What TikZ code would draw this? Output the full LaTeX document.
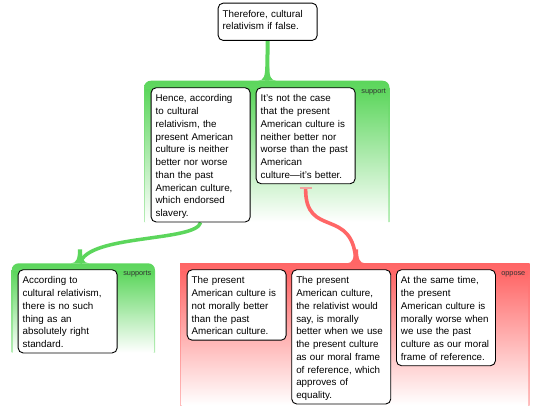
\documentclass[tikz,border=0pt]{standalone}
\usepackage{fontspec}
\setmainfont{Liberation Sans}
\usepackage{tikz}
\usetikzlibrary{shapes,arrows}
\definecolor{supgreen}{RGB}{92,214,92}
\definecolor{oppred}{RGB}{255,102,102}
\definecolor{tickred}{RGB}{240,165,160}
\pgfdeclarelayer{background}
\pgfsetlayers{background,main}
\tikzstyle{claim} = [draw=black, line width=0.9pt, rounded corners=5pt, fill=white, anchor=north west, minimum width=99pt, text width=90pt, inner xsep=4.5pt, inner ysep=3pt, align=left, font=\fontsize{9.8}{12.76}\selectfont, execute at begin node={\rule{0pt}{11pt}}, execute at end node={\rule[-2.4pt]{0pt}{2.4pt}}]
\tikzstyle{grouplabel} = [anchor=east, inner sep=0pt, font=\fontsize{7.3}{8}\selectfont, text=black!80]
\tikzstyle{greenlink} = [draw=supgreen, line width=4pt]
\tikzstyle{redlink} = [draw=oppred, line width=3.6pt]
% widening foot of a link where it meets a group
\newcommand{\flare}[2]{%
  \fill[#2] ([xshift=-9pt]#1) .. controls ([xshift=-3.5pt]#1) and ([xshift=-2pt,yshift=5pt]#1) .. ([xshift=-2pt,yshift=14pt]#1)
    -- ([xshift=2pt,yshift=14pt]#1) .. controls ([xshift=2pt,yshift=5pt]#1) and ([xshift=3.5pt]#1) .. ([xshift=9pt]#1) -- cycle;}
\begin{document}
\begin{tikzpicture}[x=1pt,y=-1pt]
        \useasboundingbox (0,0) rectangle (540,405);

        \coordinate (SupTop) at (267.2,80.7);
        \coordinate (SupsTop) at (80,263.3);
        \coordinate (OppTop) at (356,263.3);

        % claims
        \node (Concl) [claim] at (217.7,2.7) {Therefore, cultural\\relativism if false.\rule[-7.5pt]{0pt}{7.5pt}};
        \node (Hence) [claim] at (150.7,87.3) {Hence, according\\to cultural\\relativism, the\\present American\\culture is neither\\better nor worse\\than the past\\American culture,\\which endorsed\\slavery.};
        \node (NotCase) [claim] at (255.7,87.3) {It's not the case\\that the present\\American culture is\\neither better nor\\worse than the past\\American\\culture---it's better.};
        \node (NoStandard) [claim] at (17.7,269.3) {According to\\cultural relativism,\\there is no such\\thing as an\\absolutely right\\standard.};
        \node (NotBetter) [claim] at (186.7,269.3) {The present\\American culture is\\not morally better\\than the past\\American culture.};
        \node (MorallyBetter) [claim] at (291.3,269.3) {The present\\American culture,\\the relativist would\\say, is morally\\better when we use\\the present culture\\as our moral frame\\of reference, which\\approves of\\equality.};
        \node (MorallyWorse) [claim] at (396,269.3) {At the same time,\\the present\\American culture is\\morally worse when\\we use the past\\culture as our moral\\frame of reference.};

        \coordinate (OppFoot) at ([yshift=-4pt]NotCase.south);

        \begin{pgfonlayer}{background}
        \fill [white] (0,0) rectangle (540,405);
        % groups
        \shade [top color=supgreen, bottom color=supgreen!45] (144,222) -- (144,87.7) .. controls (144,83.7) and (147,80.7) .. (151,80.7) -- (382.5,80.7) .. controls (386.5,80.7) and (389.5,83.7) .. (389.5,87.7) -- (389.5,222) -- cycle;
        \shade [top color=supgreen, bottom color=white] (145.5,89) rectangle (388,222);
        \shade [top color=supgreen, bottom color=supgreen!45] (11.7,352.5) -- (11.7,270.3) .. controls (11.7,266.3) and (14.7,263.3) .. (18.7,263.3) -- (148,263.3) .. controls (152,263.3) and (155,266.3) .. (155,270.3) -- (155,352.5) -- cycle;
        \shade [top color=supgreen, bottom color=white] (13.2,271.5) rectangle (153.5,352.5);
        \shade [top color=oppred, bottom color=oppred!45] (180,263.3) rectangle (529.5,405);
        \shade [top color=oppred, bottom color=white] (181.5,271.5) rectangle (528,405);

        % links
        \path [greenlink] (Concl.south) -- (SupTop);
        \flare{SupTop}{supgreen}
        \path [greenlink, line width=3.5pt] (Hence.south) .. controls (196,242) and (88,234) .. (SupsTop);
        \flare{SupsTop}{supgreen}
        \path [redlink] (OppFoot) .. controls (304.8,240) and (354,205) .. (OppTop);
        \flare{OppTop}{oppred}
        \draw [tickred, line width=2pt] ([xshift=-6pt,yshift=-3.5pt]NotCase.south) -- ([xshift=6pt,yshift=-3.5pt]NotCase.south);
        \end{pgfonlayer}

        \node (SupLabel) [grouplabel] at (386,92.3) {support};
        \node (SupsLabel) [grouplabel] at (151.5,274.3) {supports};
        \node (OppLabel) [grouplabel] at (525.5,274.7) {oppose};
\end{tikzpicture}
\end{document}
